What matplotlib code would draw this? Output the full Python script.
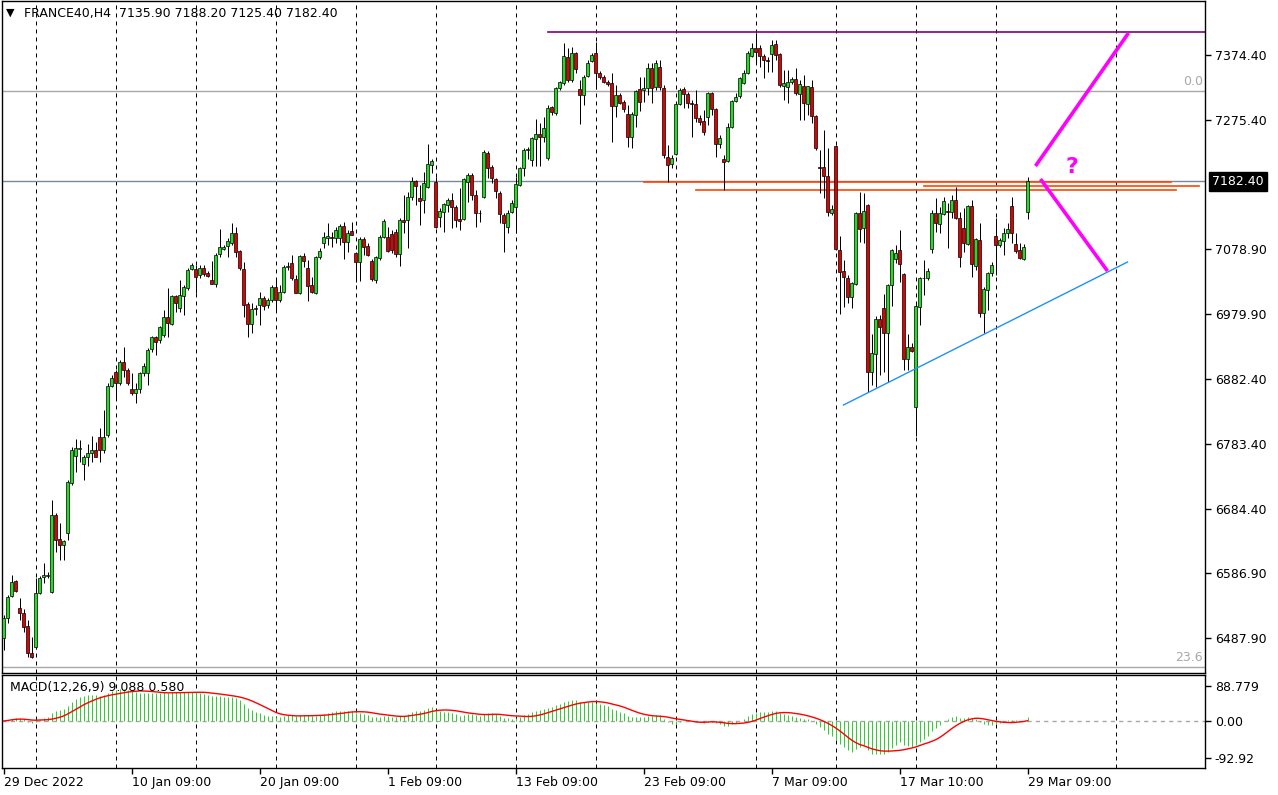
import numpy as np
import pandas as pd
import matplotlib
matplotlib.use("Agg")
import matplotlib.pyplot as plt
import matplotlib.transforms as mtransforms

# ---------------- data (FRANCE40, H4) ----------------
opens = [
    6488.2, 6518.6, 6552.1, 6574.9, 6533.8, 6526.2, 6506.5, 6465.4, 6474.6, 6556.6,
    6581.0, 6582.5, 6558.2, 6675.2, 6638.7, 6629.6, 6647.8, 6723.8, 6764.9, 6775.5,
    6752.7, 6763.4, 6769.4, 6774.0, 6793.8, 6774.0, 6796.8, 6871.3, 6892.6, 6875.8,
    6907.8, 6895.6, 6866.7, 6860.6, 6866.7, 6891.0, 6891.0, 6927.5, 6945.8, 6941.2,
    6948.8, 6976.2, 6965.5, 7008.1, 6989.8, 7008.1, 7020.2, 7049.1, 7049.1, 7040.0,
    7050.6, 7043.0, 7032.4, 7026.3, 7071.9, 7079.5, 7084.1, 7088.6, 7103.8, 7076.5,
    7049.1, 6995.9, 6965.5, 6988.3, 6994.4, 7005.0, 6994.4, 7002.0, 7021.8, 7002.0,
    7014.2, 7052.2, 7058.2, 7033.9, 7012.6, 7068.9, 7050.6, 7024.8, 7012.6, 7067.4,
    7088.6, 7096.2, 7097.8, 7096.2, 7096.2, 7114.5, 7090.2, 7106.9, 7073.4, 7059.8,
    7094.7, 7084.1, 7061.3, 7032.4, 7065.8, 7097.8, 7097.8, 7102.3, 7105.4, 7071.9,
    7123.6, 7123.6, 7158.6, 7182.9, 7157.0, 7154.0, 7173.8, 7207.2, 7181.4, 7128.2,
    7135.8, 7146.4, 7154.0, 7143.4, 7125.1, 7125.1, 7181.4, 7192.0, 7161.6, 7134.2,
    7158.6, 7225.4, 7204.2, 7185.9, 7164.6, 7131.2, 7113.0, 7135.8, 7143.4, 7176.8,
    7202.6, 7230.0, 7214.8, 7246.7, 7254.3, 7249.8, 7217.8, 7295.4, 7286.2, 7324.2,
    7331.8, 7371.4, 7336.4, 7377.4, 7322.7, 7313.6, 7342.5, 7365.3, 7377.4, 7347.0,
    7341.0, 7333.4, 7331.8, 7296.9, 7313.6, 7303.0, 7284.7, 7249.8, 7283.2, 7322.7,
    7321.2, 7324.2, 7354.6, 7325.8, 7356.2, 7324.2, 7219.4, 7208.7, 7223.9, 7299.9,
    7322.7, 7315.1, 7301.4, 7299.9, 7278.6, 7274.1, 7280.2, 7316.6, 7292.3, 7239.1,
    7216.3, 7213.3, 7265.0, 7304.5, 7312.1, 7331.8, 7347.0, 7372.9, 7385.0, 7385.0,
    7372.9, 7366.8, 7375.9, 7391.1, 7375.9, 7327.3, 7325.8, 7333.4, 7337.9, 7315.1,
    7327.3, 7299.9, 7325.8, 7281.7, 7204.2, 7204.2, 7190.5, 7134.2, 7236.1, 7078.0,
    7046.1, 7035.4, 7006.6, 7026.3, 7134.2, 7111.4, 7146.4, 6892.6, 6919.9, 6973.1,
    6989.8, 6951.8, 7024.8, 7064.3, 7078.0, 7041.5, 6912.3, 6930.6, 6839.4, 6991.4,
    7035.4, 7035.4, 7079.5, 7134.2, 7117.5, 7132.7, 7137.3, 7135.8, 7154.0, 7126.6,
    7111.4, 7087.1, 7144.9, 7053.7, 7093.2, 6982.2, 7017.2, 7043.0, 7099.3, 7085.6,
    7091.7, 7103.8, 7144.9, 7087.1, 7078.0, 7064.3, 7135.9,
]
highs = [
    6523.2, 6553.6, 6584.0, 6576.4, 6549.0, 6532.3, 6515.6, 6489.8, 6579.4, 6582.5,
    6602.2, 6588.6, 6698.0, 6678.2, 6663.0, 6637.2, 6728.4, 6778.6, 6790.7, 6789.2,
    6766.4, 6783.1, 6795.3, 6786.2, 6807.4, 6834.8, 6875.8, 6888.0, 6895.6, 6910.8,
    6930.6, 6898.6, 6891.0, 6875.8, 6892.6, 6906.2, 6929.0, 6947.3, 6947.0, 6962.5,
    6986.8, 7020.2, 7009.6, 7009.6, 7032.4, 7024.8, 7050.6, 7058.2, 7055.2, 7055.2,
    7055.2, 7046.1, 7061.3, 7073.4, 7109.9, 7085.6, 7096.2, 7119.0, 7113.0, 7078.0,
    7059.8, 6999.0, 6997.4, 6994.4, 7014.2, 7008.1, 7005.0, 7024.8, 7035.4, 7024.8,
    7055.2, 7059.8, 7070.4, 7040.0, 7070.4, 7073.4, 7062.8, 7037.0, 7068.9, 7081.0,
    7105.4, 7119.0, 7105.4, 7113.0, 7117.5, 7120.6, 7108.4, 7120.6, 7075.0, 7097.8,
    7097.8, 7088.6, 7064.3, 7068.9, 7100.8, 7125.1, 7113.0, 7108.4, 7109.9, 7126.6,
    7161.6, 7166.2, 7189.0, 7184.4, 7176.8, 7196.6, 7239.1, 7216.3, 7189.0, 7141.8,
    7149.4, 7157.0, 7164.6, 7146.4, 7172.2, 7187.4, 7195.0, 7195.0, 7169.2, 7138.8,
    7230.0, 7228.5, 7207.2, 7187.4, 7167.7, 7134.2, 7138.8, 7154.0, 7189.0, 7204.2,
    7233.0, 7234.6, 7249.8, 7277.1, 7271.0, 7280.2, 7298.4, 7296.9, 7325.8, 7334.9,
    7392.6, 7385.0, 7386.6, 7379.0, 7336.4, 7344.0, 7366.8, 7377.4, 7394.2, 7350.1,
    7344.0, 7336.4, 7347.0, 7328.8, 7316.6, 7306.0, 7298.4, 7287.8, 7321.2, 7341.0,
    7341.0, 7362.2, 7362.2, 7366.8, 7366.8, 7328.8, 7237.6, 7222.4, 7303.0, 7324.2,
    7325.8, 7318.2, 7306.0, 7321.2, 7283.2, 7290.8, 7318.2, 7318.2, 7293.8, 7252.8,
    7222.4, 7271.0, 7306.0, 7316.6, 7341.0, 7351.6, 7380.5, 7392.6, 7407.8, 7389.6,
    7375.9, 7371.4, 7397.2, 7397.2, 7377.4, 7351.6, 7351.6, 7341.0, 7354.6, 7336.4,
    7344.0, 7327.3, 7336.4, 7283.2, 7230.0, 7260.4, 7233.0, 7146.4, 7237.5, 7099.3,
    7062.8, 7040.0, 7029.0, 7135.5, 7166.2, 7164.6, 7147.5, 6950.3, 6977.7, 6979.2,
    7011.1, 7026.0, 7079.5, 7085.6, 7108.4, 7043.0, 6950.3, 6936.6, 6997.4, 7037.0,
    7062.8, 7050.6, 7138.8, 7157.0, 7143.4, 7158.6, 7149.4, 7161.6, 7173.8, 7135.8,
    7141.8, 7146.0, 7154.0, 7096.2, 7119.0, 7021.8, 7044.6, 7059.8, 7126.6, 7096.2,
    7111.4, 7119.0, 7158.6, 7103.8, 7088.6, 7087.1, 7188.2,
]
lows = [
    6470.0, 6511.0, 6550.6, 6558.2, 6515.6, 6497.4, 6459.4, 6457.8, 6471.5, 6555.1,
    6571.8, 6579.4, 6556.6, 6619.0, 6606.8, 6606.8, 6637.2, 6720.8, 6740.6, 6755.8,
    6728.4, 6749.7, 6755.8, 6763.4, 6755.8, 6769.4, 6793.8, 6869.8, 6850.0, 6872.8,
    6885.0, 6872.8, 6857.6, 6845.4, 6860.6, 6886.5, 6872.8, 6923.0, 6918.4, 6936.6,
    6945.8, 6945.8, 6964.0, 6983.8, 6983.8, 6979.2, 7017.2, 7047.6, 7012.6, 7035.4,
    7038.5, 7037.0, 7026.3, 7021.8, 7067.4, 7078.0, 7067.4, 7085.6, 7067.4, 7047.6,
    6976.2, 6945.8, 6951.8, 6979.2, 6964.0, 6986.8, 6989.8, 6999.0, 6986.8, 6999.0,
    7012.6, 7047.6, 7032.4, 7012.6, 7011.0, 7052.2, 7000.5, 7012.6, 7011.1, 7064.3,
    7081.0, 7085.6, 7082.6, 7088.6, 7085.6, 7064.3, 7075.0, 7100.8, 7029.4, 7030.9,
    7070.4, 7068.9, 7030.9, 7027.8, 7062.8, 7096.0, 7075.0, 7073.4, 7067.4, 7053.7,
    7103.8, 7081.0, 7154.0, 7146.4, 7116.0, 7134.2, 7172.2, 7195.0, 7111.4, 7113.0,
    7105.4, 7135.8, 7111.4, 7113.0, 7108.4, 7123.6, 7151.0, 7154.0, 7113.0, 7120.6,
    7157.5, 7187.4, 7179.8, 7157.0, 7119.0, 7075.0, 7103.8, 7134.2, 7103.8, 7175.3,
    7190.5, 7216.3, 7205.7, 7205.7, 7205.7, 7242.2, 7214.8, 7283.2, 7283.2, 7321.2,
    7328.8, 7333.4, 7333.4, 7347.0, 7269.5, 7298.4, 7341.0, 7363.8, 7322.7, 7337.9,
    7331.8, 7327.3, 7242.2, 7280.2, 7299.9, 7287.8, 7234.6, 7233.0, 7265.0, 7289.3,
    7303.0, 7313.6, 7301.4, 7321.2, 7321.2, 7217.8, 7181.4, 7202.6, 7222.4, 7298.4,
    7293.8, 7293.8, 7249.8, 7272.6, 7268.0, 7252.8, 7268.0, 7283.2, 7219.4, 7233.0,
    7169.2, 7211.8, 7263.4, 7303.0, 7309.0, 7330.3, 7345.5, 7371.4, 7363.8, 7356.2,
    7339.4, 7348.6, 7348.6, 7366.8, 7325.8, 7306.0, 7301.4, 7330.3, 7313.6, 7275.6,
    7275.6, 7283.2, 7271.0, 7230.0, 7164.6, 7157.0, 7129.7, 7131.2, 7078.0, 6980.7,
    6991.4, 6997.4, 6989.8, 7024.8, 7090.2, 7088.6, 6862.2, 6872.8, 6869.8, 6888.0,
    6892.6, 6877.4, 6992.9, 7058.2, 7029.4, 6895.6, 6895.6, 6923.0, 6795.3, 6964.0,
    7009.6, 7032.4, 7073.4, 7105.4, 7103.8, 7131.5, 7081.0, 7126.6, 7125.5, 7052.2,
    7075.0, 7085.6, 7037.0, 7047.6, 6976.2, 6951.8, 6986.8, 7038.5, 7040.0, 7082.6,
    7070.4, 7096.2, 7088.6, 7073.4, 7064.3, 7062.8, 7125.4,
]
closes = [
    6518.6, 6550.6, 6573.4, 6559.7, 6526.2, 6505.0, 6465.4, 6459.4, 6556.6, 6579.4,
    6584.0, 6583.0, 6675.2, 6637.2, 6629.6, 6635.7, 6725.4, 6774.0, 6777.0, 6777.0,
    6763.4, 6769.4, 6774.0, 6763.4, 6774.0, 6793.8, 6871.3, 6883.4, 6875.8, 6907.8,
    6895.6, 6875.8, 6860.6, 6866.7, 6891.0, 6901.7, 6926.0, 6945.8, 6938.2, 6961.0,
    6976.2, 6967.0, 7008.1, 6997.4, 7009.6, 7021.8, 7047.6, 7055.2, 7037.0, 7050.6,
    7041.5, 7038.5, 7026.3, 7070.4, 7082.6, 7082.6, 7091.7, 7103.8, 7075.0, 7050.6,
    6994.4, 6965.5, 6988.3, 6989.0, 7005.0, 6992.9, 7002.0, 7021.8, 7002.0, 7014.2,
    7052.2, 7053.7, 7035.4, 7012.6, 7068.9, 7061.3, 7023.3, 7014.2, 7067.4, 7076.5,
    7097.8, 7099.3, 7096.2, 7108.4, 7114.5, 7090.2, 7103.8, 7100.8, 7059.8, 7094.7,
    7082.6, 7070.4, 7033.9, 7067.4, 7097.8, 7122.1, 7076.5, 7078.0, 7071.9, 7123.6,
    7120.6, 7158.6, 7182.9, 7175.3, 7152.5, 7179.8, 7208.7, 7213.3, 7113.0, 7137.3,
    7147.9, 7154.0, 7143.4, 7123.6, 7122.1, 7185.9, 7192.0, 7161.6, 7134.2, 7134.8,
    7227.0, 7202.6, 7187.4, 7167.7, 7132.7, 7119.0, 7134.2, 7149.4, 7178.3, 7202.6,
    7230.0, 7231.5, 7248.2, 7254.3, 7249.8, 7263.4, 7293.8, 7287.8, 7324.2, 7333.4,
    7372.9, 7336.4, 7377.4, 7353.1, 7313.6, 7341.0, 7362.2, 7374.4, 7347.0, 7341.0,
    7333.4, 7330.3, 7296.9, 7313.6, 7301.4, 7292.3, 7249.8, 7284.7, 7319.7, 7303.0,
    7324.2, 7354.6, 7324.2, 7362.2, 7325.8, 7222.4, 7207.2, 7217.8, 7299.9, 7321.2,
    7315.1, 7301.4, 7299.9, 7278.6, 7272.6, 7257.4, 7316.6, 7292.3, 7239.1, 7248.2,
    7211.8, 7265.0, 7304.5, 7310.6, 7339.4, 7347.0, 7377.4, 7385.0, 7379.0, 7372.9,
    7366.8, 7365.3, 7389.6, 7374.4, 7328.8, 7331.8, 7333.4, 7337.9, 7316.6, 7330.3,
    7301.4, 7326.5, 7281.7, 7233.0, 7203.0, 7190.5, 7135.8, 7140.3, 7079.5, 7044.6,
    7037.0, 7006.6, 7027.8, 7134.2, 7109.9, 7137.3, 6892.6, 6921.4, 6973.1, 6961.0,
    6951.8, 7024.8, 7078.0, 7073.4, 7056.7, 6912.3, 6930.6, 6924.5, 6992.9, 7035.4,
    7036.0, 7046.1, 7134.2, 7119.0, 7134.2, 7152.5, 7135.8, 7154.0, 7126.6, 7067.4,
    7088.6, 7144.9, 7056.7, 7094.7, 6982.2, 7018.7, 7043.0, 7055.2, 7085.6, 7093.2,
    7103.8, 7109.9, 7103.8, 7076.5, 7065.8, 7082.6, 7182.4,
]

title_text = "FRANCE40,H4  7135.90 7188.20 7125.40 7182.40"
macd_text = "MACD(12,26,9) 9.088 0.580"
price_ticks = [7374.40, 7275.40, 7078.90, 6979.90, 6882.40, 6783.40, 6684.40, 6586.90, 6487.90]
bid_price = 7182.40
macd_ticks = [88.779, 0.0, -92.92]
macd_tick_labels = ["88.779", "0.00", "-92.92"]
date_tick_bars = [0, 32, 64, 96, 128, 160, 192, 224, 256]
date_labels = ["29 Dec 2022", "10 Jan 09:00", "20 Jan 09:00", "1 Feb 09:00", "13 Feb 09:00",
               "23 Feb 09:00", "7 Mar 09:00", "17 Mar 10:00", "29 Mar 09:00"]
grid_bars = [8.2, 28.2, 48.2, 68.2, 88.2, 108.2, 128.2, 148.2, 168.2, 188.2, 208.2, 228.2, 248.2, 278.2]

# drawn objects
fib_levels = [("0.0", 7319.7), ("23.6", 6444.2)]
resistance = (136, 7409.4)                       # start bar, price (to right edge)
orange_levels = [(160, 291.75, 7180.8), (230, 298.75, 7175.2), (173, 293.0, 7168.7)]
trend_line = [(210, 6842.2), (281, 7059.6)]
scenario_up = [(258, 7205.6), (281.25, 7407.9)]
scenario_down = [(259.25, 7185.8), (276, 7045.9)]
question_pos = (267.0, 7204.0)

# ---------------- figure ----------------
plt.rcParams['font.family'] = ['DejaVu Sans']
plt.rcParams['font.size'] = 9

W, H = 1278, 795
fig = plt.figure(figsize=(W / 100, H / 100), dpi=100)
fig.patch.set_facecolor('white')


def rect(x0, y0, x1, y1):
    return [x0 / W, 1 - y1 / H, (x1 - x0) / W, (y1 - y0) / H]


ax = fig.add_axes(rect(2, 1, 1205, 673))
ax2 = fig.add_axes(rect(2, 675, 1205, 768))

o = np.array(opens); h = np.array(highs); l = np.array(lows); c = np.array(closes)
h = np.maximum(h, np.maximum(o, c))
l = np.minimum(l, np.minimum(o, c))
x = np.arange(len(c))
up = c >= o

GREEN = '#22dd22'
RED = '#e00000'
PX = 0.72  # one pixel in points

# 4 px per bar, bar centres on pixel centres
XMIN = -0.375
XMAX = XMIN + 1203 / 4
ax.set_xlim(XMIN, XMAX)
ax.set_ylim(6434.7, 7456.5)

# grid
for gx in grid_bars:
    ax.axvline(gx, color='black', lw=PX, linestyle=(0, (4, 4)), zorder=1)
    ax2.axvline(gx, color='black', lw=PX, linestyle=(0, (4, 4)), zorder=1)

# fib levels
for name, lev in fib_levels:
    ax.axhline(lev, color='#a8a8a8', lw=1, zorder=1)
    ax.text(0.9985, lev + 4.5, name, transform=mtransforms.blended_transform_factory(ax.transAxes, ax.transData),
            ha='right', va='bottom', color='#a8a8a8', fontsize=9)

# bid line
ax.axhline(bid_price, color='#778899', lw=1, zorder=1.5)

# resistance line
ax.plot([resistance[0], XMAX], [resistance[1], resistance[1]], color='#800080', lw=1.2, zorder=1.5)

# orange levels
for x0, x1, lev in orange_levels:
    ax.plot([x0, x1], [lev, lev], color='#ff4500', lw=1.2, zorder=1.6)

# candles
ax.vlines(x, l, h, color='black', lw=PX, zorder=2)
body_bottom = np.minimum(o, c)
body_h = np.abs(c - o)
ax.bar(x, body_h, width=0.78, bottom=body_bottom, color=np.where(up, GREEN, RED),
       edgecolor='black', linewidth=0.5, zorder=3)

# trend line & scenario arrows
ax.plot([p[0] for p in trend_line], [p[1] for p in trend_line], color='#1e90ff', lw=1, zorder=4)
ax.plot([p[0] for p in scenario_up], [p[1] for p in scenario_up], color='#ff00ff', lw=2.6,
        solid_capstyle='butt', zorder=4)
ax.plot([p[0] for p in scenario_down], [p[1] for p in scenario_down], color='#ff00ff', lw=2.6,
        solid_capstyle='butt', zorder=4)
ax.text(question_pos[0], question_pos[1], "?", color='#ff00ff', fontsize=16, fontweight='bold',
        ha='center', va='center', zorder=5)

# axes style main
ax.set_xticks([])
ax.yaxis.tick_right()
ax.set_yticks(price_ticks)
ax.set_yticklabels([f"{v:.2f}" for v in price_ticks])
ax.tick_params(axis='y', direction='out', length=4, width=1, pad=3, labelsize=9, colors='black')
for s in ax.spines.values():
    s.set_color('black'); s.set_linewidth(1)

# bid label
ax.text((1212 - 2) / 1203, bid_price, f"{bid_price:.2f}",
        transform=mtransforms.blended_transform_factory(ax.transAxes, ax.transData),
        ha='left', va='center', color='white', fontsize=9, clip_on=False,
        bbox=dict(facecolor='black', edgecolor='black', pad=2.2))

# title
fig.text(6 / W, 1 - 13 / H, "\u25bc", fontsize=8, va='center', ha='left')
fig.text(24 / W, 1 - 13 / H, title_text, fontsize=9, va='center', ha='left')

# ---------------- MACD ----------------
cs = pd.Series(closes)
ema12 = cs.ewm(span=12, adjust=False).mean()
ema26 = cs.ewm(span=26, adjust=False).mean()
macd = (ema12 - ema26).values
signal = pd.Series(macd).rolling(9, min_periods=1).mean().values

ax2.set_xlim(XMIN, XMAX)
ax2.set_ylim(-119.2, 116.7)
ax2.axhline(0, color='#a8a8a8', lw=1, linestyle=(0, (3, 3)), zorder=1)
ax2.vlines(x, 0, macd, color='#32cd32', lw=PX, zorder=2)
ax2.plot(x, signal, color='#ff0000', lw=1, zorder=3)
ax2.text(8 / 1203, 1 - 13 / 93, macd_text, transform=ax2.transAxes, fontsize=9, va='center', ha='left')

ax2.yaxis.tick_right()
ax2.set_yticks(macd_ticks)
ax2.set_yticklabels(macd_tick_labels)
ax2.tick_params(axis='y', direction='out', length=4, width=1, pad=3, labelsize=9)
ax2.set_xticks(date_tick_bars)
ax2.set_xticklabels(date_labels, ha='left')
ax2.tick_params(axis='x', direction='out', length=4, width=1, pad=2, labelsize=9)
for s in ax2.spines.values():
    s.set_color('black'); s.set_linewidth(1)

fig.savefig("out.png", dpi=100, facecolor='white')
